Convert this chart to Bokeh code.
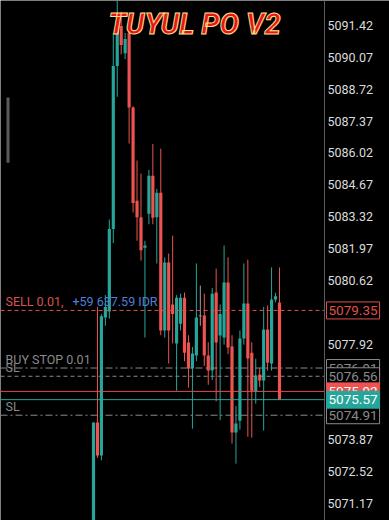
from bokeh.plotting import figure
from bokeh.models import Range1d, FixedTicker, PrintfTickFormatter, Label, BoxAnnotation
from bokeh.embed import file_html
from bokeh.resources import INLINE

# ---- data ----
opens  = [5070.00, 5074.60, 5073.20, 5079.05, 5079.30, 5082.80, 5089.70, 5091.40, 5090.25, 5091.10,
          5087.95, 5084.00, 5083.30, 5082.00, 5083.45, 5085.06, 5083.30, 5084.34, 5078.50, 5081.38,
          5079.60, 5077.95, 5078.79, 5079.89, 5077.99, 5076.89, 5077.44, 5079.13, 5079.13, 5077.44,
          5076.80, 5080.11, 5078.29, 5078.20, 5080.53, 5077.82, 5074.18, 5074.68, 5078.16, 5079.64,
          5077.56, 5075.91, 5076.63, 5076.38, 5078.54, 5077.10, 5079.81, 5079.68]
highs  = [5074.60, 5079.50, 5079.20, 5080.00, 5083.20, 5091.10, 5092.60, 5092.00, 5091.10, 5091.30,
          5088.00, 5085.70, 5085.15, 5082.30, 5085.30, 5086.40, 5084.50, 5086.20, 5081.60, 5081.76,
          5082.52, 5080.00, 5080.06, 5080.11, 5078.30, 5077.80, 5081.34, 5080.40, 5080.06, 5078.00,
          5080.30, 5081.12, 5079.60, 5082.10, 5081.60, 5078.30, 5075.30, 5078.50, 5081.34, 5081.50,
          5078.00, 5077.30, 5076.90, 5079.50, 5079.56, 5081.17, 5080.10, 5081.17]
lows   = [5069.80, 5073.10, 5073.00, 5078.70, 5079.00, 5082.20, 5088.40, 5090.20, 5090.00, 5086.42,
          5083.50, 5082.30, 5081.46, 5078.20, 5083.00, 5083.00, 5081.34, 5078.30, 5078.20, 5077.10,
          5077.95, 5075.95, 5078.50, 5077.20, 5076.08, 5074.34, 5077.20, 5078.70, 5077.00, 5076.20,
          5076.40, 5075.50, 5074.70, 5077.90, 5077.50, 5073.71, 5072.86, 5074.30, 5077.90, 5074.00,
          5073.96, 5075.40, 5076.10, 5074.26, 5076.80, 5076.80, 5079.70, 5075.57]
closes = [5074.60, 5073.20, 5079.10, 5079.50, 5082.80, 5089.70, 5091.40, 5090.60, 5090.85, 5087.95,
          5083.90, 5083.30, 5081.90, 5082.10, 5085.06, 5083.28, 5084.34, 5078.50, 5081.38, 5078.50,
          5079.20, 5079.89, 5079.89, 5077.56, 5076.89, 5077.52, 5079.05, 5079.13, 5077.44, 5076.80,
          5080.06, 5077.99, 5079.20, 5080.53, 5077.78, 5074.18, 5074.56, 5078.16, 5079.64, 5077.31,
          5075.95, 5076.59, 5076.38, 5078.54, 5077.14, 5079.81, 5079.95, 5075.57]

tick_labels = [5071.17, 5072.52, 5073.87, 5075.22, 5076.57, 5077.92, 5079.27, 5080.62,
               5081.97, 5083.32, 5084.67, 5086.02, 5087.37, 5088.72, 5090.07, 5091.42]

sell_price = 5079.35
buy_stop_price = 5076.91
sl_upper_price = 5076.56
ask_price = 5075.92
bid_price = 5075.57
sl_lower_price = 5074.91
profit_text = "+59 637.59 IDR"

UP = "#26a69a"
DOWN = "#ef5350"
DOJI = "#9e9e9e"
GRAY = "#8a8a8a"

X_START, X_END = -23.5, 74.8     # visible bar-index span
AXIS_X = 58.38                    # bar-index where the price scale begins

idx = list(range(len(opens)))
colors = [UP if c > o else (DOWN if c < o else DOJI) for o, c in zip(opens, closes)]
tops = [max(o, c) for o, c in zip(opens, closes)]
bots = [min(o, c) if o != c else o - 0.03 for o, c in zip(opens, closes)]

p = figure(width=389, height=520, output_backend="svg", toolbar_location=None,
           x_range=Range1d(X_START, X_END), y_range=Range1d(5070.45, 5092.48),
           x_axis_location=None, y_axis_location="right",
           min_border_left=0, min_border_right=0, min_border_top=0, min_border_bottom=0)
p.grid.visible = False
p.background_fill_color = "black"
p.border_fill_color = "black"
p.outline_line_color = None

ax = p.yaxis[0]
ax.fixed_location = AXIS_X
ax.ticker = FixedTicker(ticks=tick_labels)
ax.formatter = PrintfTickFormatter(format="%.2f")
ax.major_label_text_color = "#dcdcdc"
ax.major_label_text_font = "Roboto"
ax.major_label_text_font_size = "12.5px"
ax.axis_line_color = "#5a5a5a"
ax.major_tick_line_color = None
ax.minor_tick_line_color = None
ax.major_tick_out = 0
ax.major_tick_in = 0
ax.major_label_standoff = 3

# candles
p.segment(idx, lows, idx, highs, line_color=colors, line_width=1)
p.vbar(x=idx, width=0.8, top=tops, bottom=bots, fill_color=colors, line_color=None)

# horizontal order / price lines (from the left edge to the price scale)
def hline(y, color, dash="solid"):
    p.segment(x0=[X_START], y0=[y], x1=[AXIS_X], y1=[y], line_color=color, line_width=1, line_dash=dash)

hline(sell_price, "#d9534f", "4 3")
hline(buy_stop_price, GRAY, "7 3 2 3")
hline(sl_upper_price, GRAY, "4 3")
hline(ask_price, "#e0504a")
hline(bid_price, UP)
hline(sl_lower_price, GRAY, "7 3 2 3")

# scroll indicator
p.add_layout(BoxAnnotation(left=6, right=9, left_units="screen", right_units="screen",
                           top=5088.37, bottom=5085.61, fill_color="#5a5a5a", fill_alpha=1, line_color=None))

# order texts
def txt(x, y, t, color, yoff=1):
    p.add_layout(Label(x=x, x_units="screen", y=y, y_offset=yoff, text=t, text_color=color,
                       text_font="Roboto", text_font_size="12.5px", text_baseline="bottom"))

txt(5, sell_price, "SELL 0.01,", "#d9534f")
txt(72, sell_price, profit_text, "#4f7fd8")
txt(5, buy_stop_price, "BUY STOP 0.01", GRAY)
txt(5, sl_upper_price, "SL", GRAY)
txt(5, sl_lower_price, "SL", GRAY)

# price boxes on the scale
def box(y, color, bg, border):
    p.add_layout(Label(x=326, x_units="screen", y=y, text=f"{y:.2f}", text_color=color,
                       text_font="Roboto", text_font_size="13.5px", text_baseline="middle",
                       background_fill_color=bg, border_line_color=border, padding=(2, 4)))

box(buy_stop_price, GRAY, "black", GRAY)
box(sl_upper_price, GRAY, "black", GRAY)
box(sl_lower_price, GRAY, "black", GRAY)
box(ask_price, "#ffffff", "#ef5350", "#ef5350")
box(bid_price, "#ffffff", UP, UP)
box(sell_price, "#e0504a", "black", "#e0504a")

# title
p.add_layout(Label(x=194, x_units="screen", y=5091.5, text="TUYUL PO V2", text_align="center",
                   text_baseline="middle", text_font="Roboto",
                   text_font_style="bold italic", text_font_size="29px", text_color="#e8141c",
                   text_outline_color="#ffe08a"))

open("out.html", "w").write(file_html(p, INLINE))
